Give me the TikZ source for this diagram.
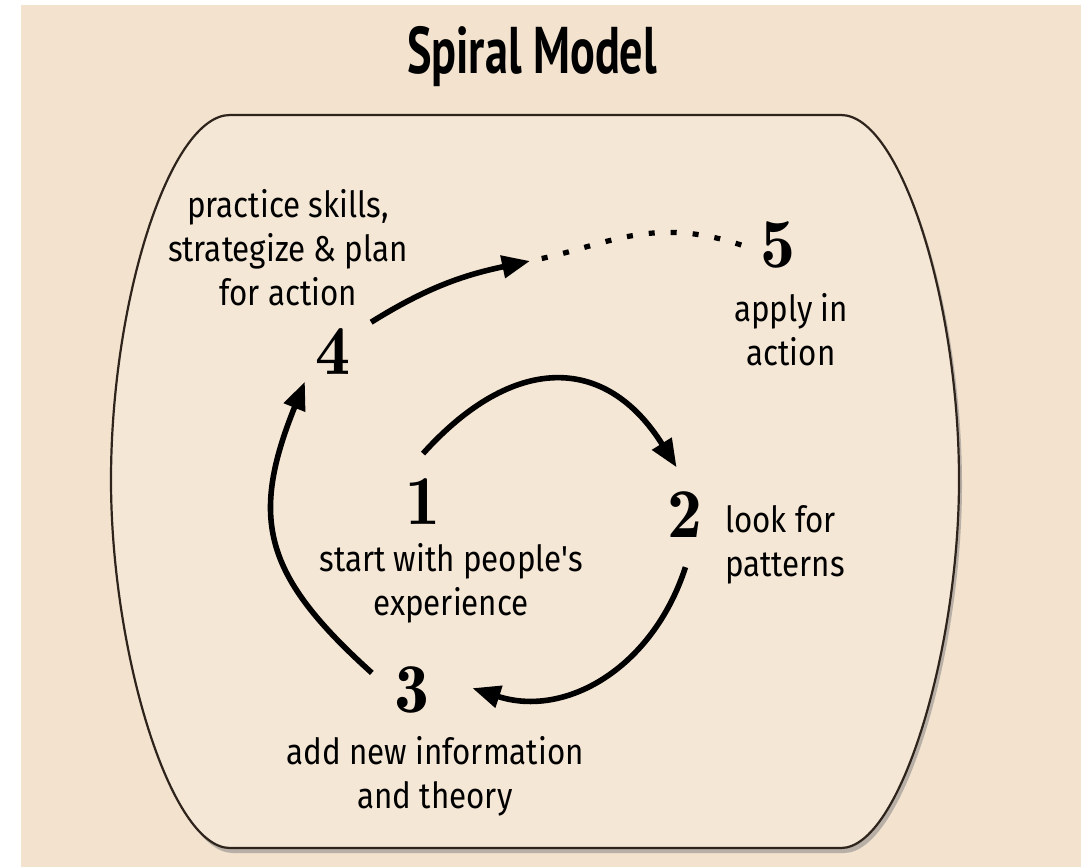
\documentclass[tikz,border=0pt]{standalone}
\usepackage{fontspec}
\newfontfamily\handfont[FakeStretch=0.87]{Fira Sans}
\newfontfamily\titlefont[FakeStretch=0.7]{PT Sans}
\newfontfamily\numfont{lmromandemi10-regular.otf}
\usepackage{tikz}
\usetikzlibrary{arrows.meta,shadows}
\definecolor{paper}{HTML}{F2E2CE}
\definecolor{card}{HTML}{F5E7D6}
\definecolor{rim}{HTML}{2E241C}
\tikzset{
	num/.style={circle, inner sep=0pt, minimum size=48pt, font=\numfont\fontsize{35}{35}\selectfont},
	lbl/.style={align=center, font=\handfont\fontsize{18}{22}\selectfont},
	flow/.style={line width=2.8pt, -{Triangle[length=14pt,width=11pt]}},
	dotline/.style={line width=2.6pt, dash pattern=on 3pt off 8pt}
}

\begin{document}
\begin{tikzpicture}[x=0.5pt,y=-0.5pt]
	%%%background
	\useasboundingbox (0,0) rectangle (1091,867);
	\fill[white] (0,0) rectangle (1091,867);
	\fill[paper] (21,5) rectangle (1081,867);
	%%%card
	\begin{scope}
	\draw[rim, line width=1.1pt, fill=card, drop shadow={opacity=0.5, shadow xshift=1.5pt, shadow yshift=-2.5pt}]
		(230,115) -- (841,115) .. controls (900,115) and (959,300) .. (959,480)
		.. controls (959,650) and (900,848) .. (841,848) -- (230,848)
		.. controls (170,848) and (111,650) .. (111,480)
		.. controls (111,300) and (170,115) .. (230,115) -- cycle;
	\end{scope}
	%%%nodes
	%title
	\node[anchor=base, font=\titlefont\bfseries\fontsize{33}{33}\selectfont] at (532,73) (title) {Spiral Model};
	%steps
	\node[num] at (423,502) (one) {1};
	\node[num] at (685,515) (two) {2};
	\node[num] at (412,690) (three) {3};
	\node[num] at (333,352) (four) {4};
	\node[num] at (778,245) (five) {5};
	%texts
	\node[lbl] at (451,583) (oneText) {start with people's\\experience};
	\node[lbl, anchor=west, align=left] at (718,545) (twoText) {look for\\patterns};
	\node[lbl] at (435,776) (threeText) {add new information\\and theory};
	\node[lbl] at (288,248) (fourText) {practice skills,\\strategize \& plan\\for action};
	\node[lbl] at (791,330) (fiveText) {apply in\\action};
	\coordinate (reach) at (530,261);
	%%%links
	\draw[flow] (one.90) to[out=48, in=122, looseness=1.35] (two.100);
	\draw[flow, shorten <=2pt, shorten >=6.5pt] (two.-88) to[out=-108, in=-18, looseness=1.1] (three.7);
	\draw[flow, shorten <=-2.5pt, shorten >=-4pt] (three.155) to[out=138, in=248, looseness=1.25] (four.230);
	\draw[flow] (four.38) to[out=32, in=192] (reach);
	%to action
	\draw[dotline, shorten <=6pt, shorten >=-10pt] (reach) to[out=12, in=160] (five.175);
\end{tikzpicture}
\end{document}
